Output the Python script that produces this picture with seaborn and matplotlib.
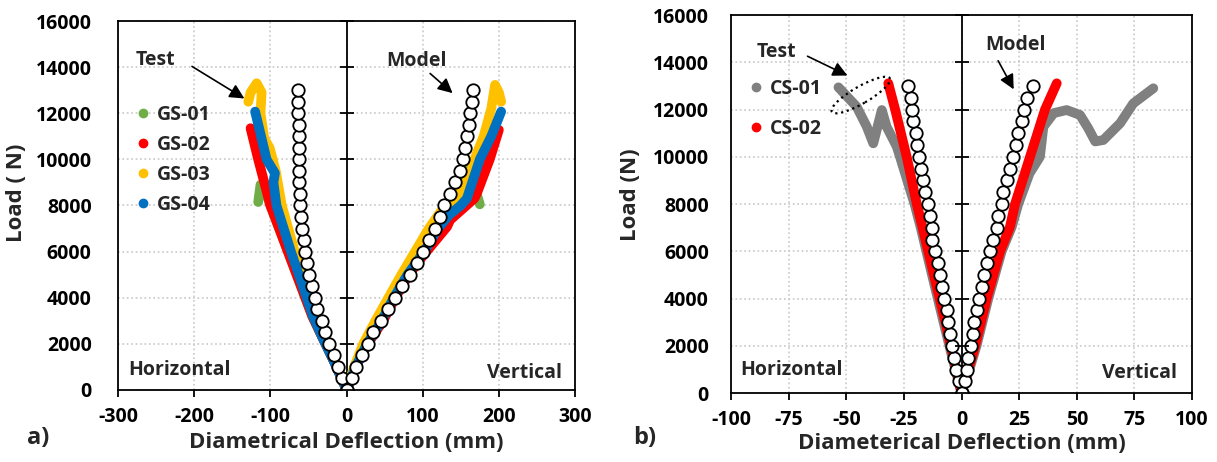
import numpy as np
import pandas as pd
import matplotlib
matplotlib.use("Agg")
import matplotlib.pyplot as plt
import matplotlib.transforms as mtransforms
from matplotlib.patches import Ellipse
from matplotlib.lines import Line2D
import seaborn as sns

# ---------------- data ----------------
# model load steps (N), same for every model branch
MODEL_LOAD = [0, 500, 1000, 1500, 2000, 2500, 3000, 3500, 4000, 4500, 5000, 5500, 6000,
              6500, 7000, 7500, 8000, 8500, 9000, 9500, 10000, 10500, 11000, 11500,
              12000, 12500, 13000]

# a) GS specimens, model deflection (mm)
MODEL_A_HOR = [0, -6.6, -11, -16.7, -22.8, -28.5, -32.8, -38.6, -41.6, -46, -49.5, -51.7,
               -54.7, -56, -59, -60, -61, -61.5, -62, -62.5, -62.5, -63, -63, -63, -63.5,
               -63.5, -63.5]
MODEL_A_VER = [0, 6.6, 12.2, 19.7, 28.4, 35, 44.6, 54.6, 63.4, 72.2, 83, 92, 100.6,
               108.5, 116, 122.4, 128, 136, 143, 148.7, 153, 155.2, 158.3, 161, 162.7,
               165.3, 166.2]

# a) test curves, horizontal branch
GS01_HX = [0, -16, -32, -45, -77, -100, -105, -113, -116]
GS01_HY = [0, 1200, 2300, 3200, 6000, 8000, 8500, 8900, 8150]
GS02_HX = [0, -16, -32, -45, -77, -93, -100, -116, -126]
GS02_HY = [0, 1200, 2300, 3200, 6000, 7400, 8000, 10000, 11350]
GS03_HX = [0, -15, -30, -42, -68, -85, -93, -97, -101, -108, -113, -111.5, -118, -126, -129]
GS03_HY = [0, 1200, 2300, 3200, 6000, 8000, 9500, 10000, 10500, 10900, 12000, 12900,
           13300, 12900, 12500]
GS04_HX = [0, -16, -32, -44, -73, -92, -96, -94, -105, -120]
GS04_HY = [0, 1200, 2300, 3200, 6000, 8000, 9000, 9400, 10000, 12070]

# a) test curves, vertical branch
GS01_VX = [0, 12, 27, 46, 62, 80, 102, 120, 140, 155, 160, 175]
GS01_VY = [0, 1000, 2000, 3000, 4000, 5000, 6000, 7000, 7900, 8900, 9700, 8050]
GS02_VX = [0, 12, 28, 48, 64, 82, 100, 110, 132, 136, 168, 172, 180, 188, 200]
GS02_VY = [0, 1000, 2000, 3000, 4000, 5000, 5800, 6200, 7080, 7370, 8310, 8600, 9300,
           10000, 11280]
GS03_VX = [0, 10, 22, 38, 55, 72, 90, 108, 125, 150, 162, 168, 180, 190, 195, 200, 203]
GS03_VY = [0, 1000, 2000, 3000, 4000, 5000, 6000, 7000, 7800, 8600, 9300, 10000, 11000,
           12200, 13230, 12900, 12500]
GS04_VX = [0, 12, 27, 46, 62, 80, 102, 120, 135, 150, 158, 165, 175, 190, 203]
GS04_VY = [0, 1000, 2000, 3000, 4000, 5000, 6000, 7000, 7600, 8000, 8300, 9000, 10000,
           11000, 12070]

# b) CS specimens, model deflection (mm)
MODEL_B_HOR = [0, -1, -2.4, -3.3, -4, -5, -5.7, -6.4, -7.5, -8.6, -9.3, -10.1, -11.5,
               -12.7, -13, -13.7, -14.7, -15.8, -16.8, -17.7, -18.3, -19.2, -19.7, -20.9,
               -21.6, -22, -23.1]
MODEL_B_VER = [0, 1.5, 2.3, 2.9, 4, 4.9, 5.6, 6.6, 7.6, 8.8, 9.8, 11.2, 12.4,
               13.8, 15.3, 16, 17.4, 18.1, 19.6, 21, 22.5, 23.6, 24.7, 26.1, 27.1, 28.3, 30.9]

CS01_HX = [0, -4, -7.8, -12.8, -17.8, -20.4, -26.7, -28.1, -32.5, -34.6, -38.3, -41.1, -45.5, -53.4]
CS01_HY = [0, 1500, 3000, 5000, 7040, 8000, 10000, 10430, 11270, 11980, 10570, 11270,
           12120, 12940]
CS02_HX = [0, -3.5, -7, -12, -17, -19.4, -23.8, -28.8, -31.8]
CS02_HY = [0, 1500, 3000, 5000, 7040, 8000, 10000, 12000, 13110]

CS01_VX = [0, 3.4, 6.5, 11.6, 17.4, 21.8, 24.6, 29.5, 34, 35.5, 40, 45.6, 51.4, 55, 58, 61.5,
           68.8, 74.5, 83.2]
CS01_VY = [0, 1000, 2000, 4000, 6000, 7040, 8000, 9300, 10000, 11270, 11850, 11980,
           11770, 11200, 10650, 10710, 11420, 12260, 12900]
CS02_VX = [0, 3, 5.9, 10.9, 16.7, 21, 23.2, 29.7, 36.2, 41.3]
CS02_VY = [0, 1000, 2000, 4000, 6000, 7040, 8000, 10000, 12000, 13110]

GS_NAMES = ["GS-01", "GS-02", "GS-03", "GS-04"]
GS_COLORS = ["#70AD47", "#FF0000", "#FFC000", "#0070C0"]
CS_NAMES = ["CS-01", "CS-02"]
CS_COLORS = ["#808080", "#FF0000"]

Y_TICKS = [0, 2000, 4000, 6000, 8000, 10000, 12000, 14000, 16000]
XA_TICKS = [-300, -200, -100, 0, 100, 200, 300]
XB_TICKS = [-100, -75, -50, -25, 0, 25, 50, 75, 100]

# ---------------- style ----------------
sns.set_style("white")
plt.rcParams["font.family"] = ["Open Sans", "DejaVu Sans"]
plt.rcParams["font.weight"] = "bold"
plt.rcParams["axes.labelweight"] = "bold"
plt.rcParams["axes.unicode_minus"] = False

fig = plt.figure(figsize=(12.17, 4.62), dpi=100)
axA = fig.add_axes([0.097, 0.156, 0.3755, 0.7985])
axB = fig.add_axes([0.6007, 0.149, 0.3788, 0.8185])

TEST_LW = 7


def draw_test(ax, x, y, color):
    sns.lineplot(x=x, y=y, sort=False, estimator=None, color=color, linewidth=TEST_LW,
                 solid_capstyle="round", solid_joinstyle="round", legend=False, ax=ax)


def draw_model(ax, x):
    sns.scatterplot(x=x, y=MODEL_LOAD, s=80, color="white", edgecolor="black",
                    linewidth=1.3, legend=False, ax=ax, zorder=5)


def style_axes(ax, xticks, xlim, ypad):
    ax.set_xlim(xlim)
    ax.set_ylim(0, 16000)
    ax.set_xticks(xticks)
    ax.set_yticks(Y_TICKS)
    ax.grid(True, linestyle=":", color="#C8C8C8", linewidth=1.2)
    ax.set_axisbelow(True)
    for sp in ax.spines.values():
        sp.set_color("black")
        sp.set_linewidth(1.3)
    ax.tick_params(axis="x", direction="out", length=5, width=1.3, pad=7,
                   labelsize=14, bottom=True, colors="black")
    ax.tick_params(axis="y", length=0, pad=ypad, labelsize=14, left=True, colors="black")
    # central vertical axis at x = 0 with crossing ticks
    ax.axvline(0, color="black", linewidth=1.3, zorder=1.5)
    tw = ax.twinx()
    tw.set_ylim(0, 16000)
    tw.set_yticks(Y_TICKS)
    tw.grid(False)
    tw.spines["right"].set_position(("data", 0))
    for sp in tw.spines.values():
        sp.set_visible(False)
    tw.tick_params(axis="y", direction="inout", length=10, width=1.3, right=True,
                   labelright=False, colors="black")


# ---------------- panel a ----------------
gs_h = [(GS01_HX, GS01_HY), (GS02_HX, GS02_HY), (GS03_HX, GS03_HY), (GS04_HX, GS04_HY)]
gs_v = [(GS01_VX, GS01_VY), (GS02_VX, GS02_VY), (GS03_VX, GS03_VY), (GS04_VX, GS04_VY)]
for (hx, hy), (vx, vy), c in zip(gs_h, gs_v, GS_COLORS):
    draw_test(axA, hx, hy, c)
    draw_test(axA, vx, vy, c)
draw_model(axA, MODEL_A_HOR)
draw_model(axA, MODEL_A_VER)

axA.set_xlabel("Diametrical Deflection (mm)", fontsize=16)
axA.set_ylabel("Load ( N)", fontsize=16)
axA.xaxis.set_label_coords(0.5, -0.113)
axA.yaxis.set_label_coords(-0.2, 0.534)

handlesA = [Line2D([], [], marker="o", linestyle="none", color=c, markersize=6)
            for c in GS_COLORS]
axA.legend(handlesA, GS_NAMES, loc="upper left", bbox_to_anchor=(0.0, 0.81),
           frameon=False, fontsize=14, handletextpad=0.1, labelspacing=0.52,
           borderaxespad=0.3, handlelength=1.2)

axA.text(-251, 14310, "Test", fontsize=14, ha="center", va="center")
axA.annotate("", xy=(-131, 12576), xytext=(-206, 14094),
             arrowprops=dict(arrowstyle="-|>", color="black", lw=1.2, mutation_scale=22))
axA.text(92, 14267, "Model", fontsize=14, ha="center", va="center")
axA.annotate("", xy=(142, 12793), xytext=(107, 13803),
             arrowprops=dict(arrowstyle="-|>", color="black", lw=1.2, mutation_scale=22))
axA.text(0.022, 0.054, "Horizontal", transform=axA.transAxes, fontsize=14,
         ha="left", va="center")
axA.text(0.971, 0.046, "Vertical", transform=axA.transAxes, fontsize=14,
         ha="right", va="center")
style_axes(axA, XA_TICKS, (-300, 300), 19)

# ---------------- panel b ----------------
cs_h = [(CS01_HX, CS01_HY), (CS02_HX, CS02_HY)]
cs_v = [(CS01_VX, CS01_VY), (CS02_VX, CS02_VY)]
for (hx, hy), (vx, vy), c in zip(cs_h, cs_v, CS_COLORS):
    draw_test(axB, hx, hy, c)
    draw_test(axB, vx, vy, c)
draw_model(axB, MODEL_B_HOR)
draw_model(axB, MODEL_B_VER)

axB.set_xlabel("Diameterical Deflection (mm)", fontsize=16)
axB.set_ylabel("Load (N)", fontsize=16)
axB.xaxis.set_label_coords(0.5, -0.105)
axB.yaxis.set_label_coords(-0.195, 0.524)

handlesB = [Line2D([], [], marker="o", linestyle="none", color=c, markersize=6)
            for c in CS_COLORS]
axB.legend(handlesB, CS_NAMES, loc="upper left", bbox_to_anchor=(0.0, 0.868),
           frameon=False, fontsize=14, handletextpad=0.1, labelspacing=1.05,
           borderaxespad=0.3, handlelength=1.2)

axB.text(-80.5, 14434, "Test", fontsize=14, ha="center", va="center")
axB.annotate("", xy=(-48.4, 13388), xytext=(-67.9, 14307),
             arrowprops=dict(arrowstyle="-|>", color="black", lw=1.2, mutation_scale=22))
axB.text(23.6, 14730, "Model", fontsize=14, ha="center", va="center")
axB.annotate("", xy=(23.2, 12753), xytext=(15.3, 14167),
             arrowprops=dict(arrowstyle="-|>", color="black", lw=1.2, mutation_scale=22))
ell_tr = mtransforms.IdentityTransform() + mtransforms.ScaledTranslation(-43.7, 12614, axB.transData)
axB.add_patch(Ellipse((0, 0), width=67, height=17, angle=30, transform=ell_tr,
                      fill=False, edgecolor="black", linestyle=":", linewidth=1.6,
                      zorder=6))
axB.text(0.0195, 0.061, "Horizontal", transform=axB.transAxes, fontsize=14,
         ha="left", va="center")
axB.text(0.967, 0.052, "Vertical", transform=axB.transAxes, fontsize=14,
         ha="right", va="center")
style_axes(axB, XB_TICKS, (-100, 100), 16)

fig.text(38 / 1217, 1 - 438 / 462, "a)", fontsize=17, ha="center", va="center")
fig.text(645 / 1217, 1 - 438 / 462, "b)", fontsize=17, ha="center", va="center")

fig.savefig("out.png", dpi=100)
